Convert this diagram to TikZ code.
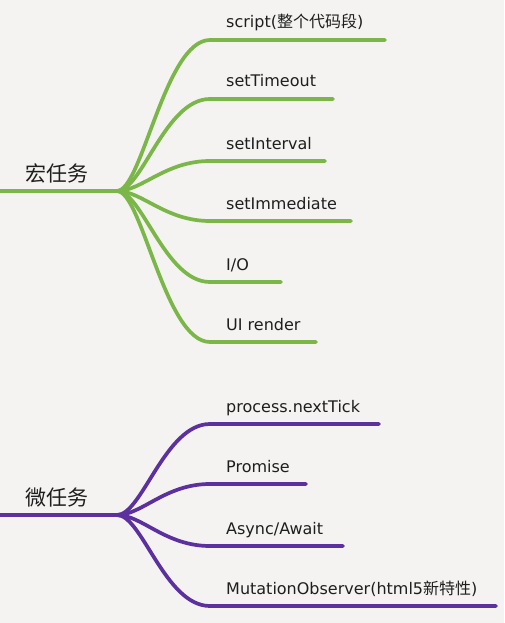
\documentclass[tikz,border=0pt]{standalone}
\usepackage{fontspec}
\setmainfont{DejaVu Sans}
\newfontfamily\cjk{Noto Sans CJK SC}
\definecolor{bg}{RGB}{244,243,241}
\definecolor{mgreen}{RGB}{122,182,72}
\definecolor{mpurple}{RGB}{92,48,158}
\definecolor{txt}{RGB}{30,30,30}
\tikzset{
  gline/.style={draw=mgreen,line width=3.7pt,line cap=round},
  pline/.style={draw=mpurple,line width=3.7pt,line cap=round},
  leaf/.style={anchor=base west,inner sep=0pt,text=txt,font=\fontsize{16}{19}\selectfont},
  rootlbl/.style={anchor=west,inner sep=0pt,text=txt,font=\cjk\fontsize{21}{24}\selectfont}
}
\begin{document}
\begin{tikzpicture}[x=1pt,y=-1pt]
\fill[bg] (0,0) rectangle (504,623);
\useasboundingbox (0,0) rectangle (504,623);
% ---- macro tasks ----
\coordinate (gs) at (0,191);
\coordinate (gh) at (117,191);
\coordinate (g1a) at (210,40);  \coordinate (g1b) at (385,40);
\coordinate (g2a) at (210,99);  \coordinate (g2b) at (333,99);
\coordinate (g3a) at (210,161); \coordinate (g3b) at (325,161);
\coordinate (g4a) at (210,221); \coordinate (g4b) at (351,221);
\coordinate (g5a) at (210,282); \coordinate (g5b) at (281,282);
\coordinate (g6a) at (210,342); \coordinate (g6b) at (316,342);
\draw[gline] (gs) -- (gh);
\foreach \i in {1,...,6}{
  \draw[gline] (gh) .. controls ([xshift=25pt]gh) and ([xshift=-45pt]g\i a) .. (g\i a) -- (g\i b);
}
\node[rootlbl] (groot) at (25,173) {宏任务};
\node[leaf] (gt1) at (226,28)  {script({\cjk 整个代码段})};
\node[leaf] (gt2) at (226,87)  {setTimeout};
\node[leaf] (gt3) at (226,149) {setInterval};
\node[leaf] (gt4) at (226,209) {setImmediate};
\node[leaf] (gt5) at (226,270) {I/O};
\node[leaf] (gt6) at (226,330) {UI render};
% ---- micro tasks ----
\coordinate (ps) at (0,515);
\coordinate (ph) at (117,515);
\coordinate (p1a) at (210,424); \coordinate (p1b) at (379,424);
\coordinate (p2a) at (210,484); \coordinate (p2b) at (306,484);
\coordinate (p3a) at (210,546); \coordinate (p3b) at (343,546);
\coordinate (p4a) at (210,606); \coordinate (p4b) at (496,606);
\draw[pline] (ps) -- (ph);
\foreach \i in {1,...,4}{
  \draw[pline] (ph) .. controls ([xshift=25pt]ph) and ([xshift=-45pt]p\i a) .. (p\i a) -- (p\i b);
}
\node[rootlbl] (proot) at (25,498) {微任务};
\node[leaf] (pt1) at (226,412) {process.nextTick};
\node[leaf] (pt2) at (226,472) {Promise};
\node[leaf] (pt3) at (226,534) {Async/Await};
\node[leaf] (pt4) at (226,594) {MutationObserver(html5{\cjk 新特性})};
\end{tikzpicture}
\end{document}
